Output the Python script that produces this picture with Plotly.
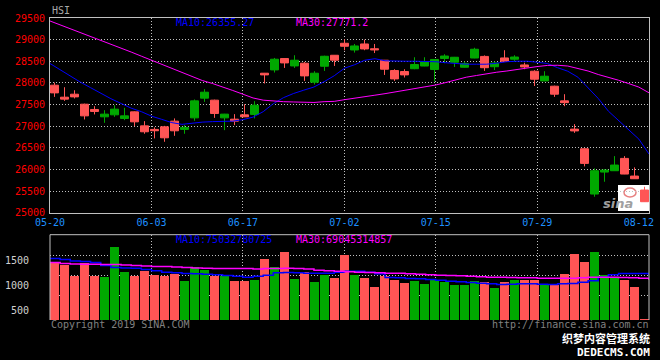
import plotly.graph_objects as go

# ---------------- data ----------------
day_index = list(range(60))
tick_labels = ["05-20", "06-03", "06-17", "07-02", "07-15", "07-29", "08-12"]
tick_days = [0, 10, 19, 29, 38, 48, 58]

open_ = [27947, 27670, 27739, 27508, 27386, 27216, 27262, 27178, 27331, 27007,
         26925, 26985, 27116, 26925, 27192, 27647, 27601, 27192, 27162, 27262,
         27271, 28224, 28300, 28563, 28392, 28455, 28016, 28385, 28639, 28916,
         28761, 28900, 28790, 28524, 28286, 28263, 28328, 28390, 28309, 28565,
         28478, 28362, 28575, 28612, 28374, 28577, 28547, 28415, 28270, 28046,
         27924, 27585, 26932, 26478, 25431, 25939, 25970, 26255, 25847, 25524]
high = [28008, 27900, 27830, 27520, 27462, 27370, 27485, 27424, 27340, 27116,
        26971, 27007, 27179, 27024, 27617, 27855, 27612, 27285, 27278, 27508,
        27577, 28230, 28577, 28570, 28639, 28485, 28270, 28628, 28645, 29008,
        28900, 29000, 28900, 28530, 28316, 28316, 28593, 28593, 28550, 28662,
        28600, 28496, 28812, 28635, 28496, 28755, 28639, 28466, 28293, 28270,
        27935, 27739, 27047, 26485, 26025, 26008, 26308, 26308, 26048, 25600]
low = [27677, 27585, 27640, 27155, 27271, 27077, 27216, 27139, 27001, 26825,
       26717, 26639, 26777, 26824, 27123, 27562, 27192, 26908, 27024, 27210,
       27179, 27986, 28240, 28346, 28346, 28046, 27963, 28277, 28392, 28755,
       28701, 28755, 28690, 28184, 28046, 28125, 28316, 28385, 28035, 28455,
       28369, 28355, 28570, 28277, 28298, 28495, 28501, 28316, 27928, 28040,
       27677, 27462, 26845, 26070, 25369, 25715, 25965, 25890, 25780, 25250]
close = [27769, 27625, 27677, 27238, 27340, 27278, 27393, 27238, 27100, 26870,
         26894, 26731, 26893, 26971, 27585, 27785, 27293, 27278, 27116, 27216,
         27485, 28185, 28547, 28462, 28524, 28162, 28224, 28616, 28524, 28847,
         28854, 28785, 28765, 28316, 28092, 28185, 28425, 28489, 28542, 28621,
         28593, 28450, 28778, 28351, 28459, 28501, 28598, 28369, 28085, 28155,
         27739, 27543, 26890, 26140, 25970, 25985, 26101, 25893, 25785, 25254]

ma10 = [28448, 28298, 28148, 28016, 27889, 27753, 27635, 27525, 27416, 27335,
        27232, 27158, 27082, 27042, 27070, 27093, 27105, 27112, 27116, 27151,
        27209, 27335, 27520, 27659, 27756, 27832, 27905, 28028, 28166, 28339,
        28420, 28524, 28559, 28512, 28501, 28501, 28501, 28501, 28489, 28466,
        28443, 28432, 28432, 28432, 28455, 28489, 28501, 28501, 28478, 28448,
        28351, 28270, 28132, 27889, 27640, 27347, 27139, 26908, 26701, 26355.27]
ma30 = [29431, 29343, 29255, 29170, 29082, 28995, 28902, 28808, 28713, 28618,
        28524, 28429, 28335, 28238, 28143, 28055, 27986, 27910, 27825, 27739,
        27652, 27601, 27578, 27566, 27559, 27548, 27548, 27566, 27573, 27612,
        27652, 27682, 27716, 27751, 27788, 27825, 27866, 27905, 27952, 28009,
        28074, 28132, 28171, 28212, 28247, 28275, 28312, 28351, 28378, 28404,
        28408, 28390, 28339, 28275, 28194, 28132, 28062, 27984, 27903, 27771.2]

volume = [1480, 1420, 1196, 1446, 1196, 1166, 1766, 1266, 1196, 1286,
          1206, 1196, 1220, 1086, 1366, 1316, 1196, 1196, 1086, 1086,
          1116, 1526, 1366, 1666, 1126, 1276, 1066, 1216, 1152, 1606,
          1200, 1152, 966, 1180, 1112, 1052, 1086, 1032, 1112, 1066,
          1012, 1012, 1086, 1066, 952, 1066, 1112, 1100, 1112, 1012,
          1012, 1232, 1632, 1466, 1666, 1200, 1152, 1112, 966, 320]
vol_ma10 = [1536, 1516, 1486, 1476, 1456, 1396, 1356, 1346, 1340, 1316,
            1286, 1256, 1246, 1232, 1226, 1220, 1206, 1192, 1176, 1160,
            1176, 1196, 1246, 1252, 1246, 1240, 1240, 1240, 1256, 1280,
            1276, 1256, 1226, 1152, 1146, 1132, 1126, 1112, 1100, 1080,
            1066, 1052, 1036, 1026, 1012, 1016, 1026, 1026, 1016, 1012,
            1026, 1032, 1056, 1086, 1156, 1206, 1232, 1232, 1232, 1200]
vol_ma30 = [1456, 1436, 1426, 1420, 1420, 1416, 1416, 1406, 1396, 1386,
            1376, 1372, 1366, 1356, 1346, 1340, 1336, 1336, 1336, 1332,
            1326, 1336, 1336, 1340, 1332, 1326, 1296, 1286, 1276, 1266,
            1260, 1252, 1246, 1240, 1236, 1226, 1216, 1206, 1200, 1192,
            1186, 1176, 1166, 1160, 1156, 1152, 1146, 1146, 1140, 1140,
            1136, 1136, 1146, 1156, 1160, 1156, 1152, 1146, 1136, 1106]
vol_ma_labels = ["MA10:75032780725", "MA30:69045314857"]
price_ticks = [25000, 25500, 26000, 26500, 27000, 27500, 28000, 28500, 29000, 29500]
vol_ticks = [500, 1000, 1500]
vol_grid = [800, 1200, 1600]

# ---------------- styling ----------------
RED = "#FF5555"
GREEN = "#00A800"
BLUE = "#0000FF"
MAGENTA = "#FF00FF"
GRID = "#C0C0C0"
FONT = "DejaVu Sans Mono"
W, H = 660, 360
ML, MR, MT, MB = 50, 11, 18, 40
PW, PH = W - ML - MR, H - MT - MB
N = len(day_index)
X0, X1 = -0.45, N - 0.55


def px_x(p):
    return (p - ML) / PW


def px_y(p):
    return (H - MB - p) / PH


# the MA lines and date grid use a slightly different horizontal scale in the original
line_x = [X0 + i * (X1 - X0) / (N - 1) for i in day_index]
tick_x = [X0 + d * (X1 - X0) / (N - 1) for d in tick_days]
grid_x = tick_x[1:-1]

vol_colors = [GREEN if c > o else RED for o, c in zip(open_, close)]

fig = go.Figure()
fig.add_trace(go.Candlestick(
    x=day_index, open=open_, high=high, low=low, close=close,
    increasing=dict(line=dict(color=GREEN, width=1), fillcolor=GREEN),
    decreasing=dict(line=dict(color=RED, width=1), fillcolor=RED),
    whiskerwidth=0, xaxis="x", yaxis="y", showlegend=False, hoverinfo="skip"))
fig.add_trace(go.Scatter(x=line_x, y=ma10, mode="lines", line=dict(color=BLUE, width=1),
                         xaxis="x", yaxis="y", showlegend=False, hoverinfo="skip"))
fig.add_trace(go.Scatter(x=line_x, y=ma30, mode="lines", line=dict(color=MAGENTA, width=1),
                         xaxis="x", yaxis="y", showlegend=False, hoverinfo="skip"))

fig.add_trace(go.Bar(x=day_index, y=volume, width=0.9, marker=dict(color=vol_colors, line=dict(width=0)),
                     xaxis="x2", yaxis="y2", showlegend=False, hoverinfo="skip"))
fig.add_trace(go.Scatter(x=line_x, y=vol_ma10, mode="lines", line=dict(color=BLUE, width=1.5, shape="hv"),
                         xaxis="x2", yaxis="y2", showlegend=False, hoverinfo="skip"))
fig.add_trace(go.Scatter(x=line_x, y=vol_ma30, mode="lines", line=dict(color=MAGENTA, width=1.5, shape="hv"),
                         xaxis="x2", yaxis="y2", showlegend=False, hoverinfo="skip"))

main_bottom = px_y(212.7)
vol_top = px_y(234.7)

dot = "1px,2px"
fig.update_layout(
    width=W, height=H,
    margin=dict(l=ML, r=MR, t=MT, b=MB, autoexpand=False),
    paper_bgcolor="black", plot_bgcolor="black",
    font=dict(family=FONT, size=10, color="#C0C0C0"),
    boxgap=0.2, boxgroupgap=0, bargap=0,
    xaxis=dict(domain=[0, 1], range=[X0, X1], anchor="y", automargin=False,
               rangeslider=dict(visible=False),
               tickmode="array", tickvals=tick_x, ticktext=tick_labels,
               tickfont=dict(color="#1E90FF", size=10, family=FONT),
               showgrid=False, zeroline=False, ticks="",
               minor=dict(tickmode="array", tickvals=grid_x, showgrid=True,
                          gridcolor=GRID, griddash=dot, gridwidth=1, ticks=""),
               showline=True, linecolor=GRID, linewidth=1, mirror=True),
    yaxis=dict(domain=[main_bottom, 1], range=[25000, 29500], anchor="x", automargin=False,
               tickmode="array", tickvals=price_ticks, ticktext=[str(v) for v in price_ticks],
               tickfont=dict(color="#FF0000", size=10, family=FONT),
               showgrid=True, gridcolor=GRID, griddash=dot, gridwidth=1,
               zeroline=False, ticks="", ticklabelstandoff=2,
               showline=True, linecolor=GRID, linewidth=1, mirror=True),
    xaxis2=dict(domain=[0, 1], range=[X0, X1], anchor="y2", automargin=False,
                showticklabels=False, ticks="", showgrid=False, zeroline=False,
                tickmode="array", tickvals=tick_x,
                minor=dict(tickmode="array", tickvals=grid_x, showgrid=True,
                           gridcolor=GRID, griddash=dot, gridwidth=1, ticks=""),
                showline=False),
    yaxis2=dict(domain=[0, vol_top], range=[300, 2012], anchor="x2", automargin=False,
                tickmode="array", tickvals=vol_ticks, ticktext=[str(v) for v in vol_ticks],
                tickfont=dict(color="#D0D0D0", size=10, family=FONT),
                showgrid=False, zeroline=False, ticks="", ticklabelstandoff=20,
                minor=dict(tickmode="array", tickvals=vol_grid, showgrid=True,
                           gridcolor=GRID, griddash=dot, gridwidth=1, ticks=""),
                showline=False),
)

# volume panel border (left, top, right)
fig.add_shape(type="path", xref="paper", yref="paper",
              path=f"M 0 0 L 0 {vol_top} L 1 {vol_top} L 1 0",
              line=dict(color=GRID, width=1))

# sina logo box
fig.add_shape(type="rect", xref="paper", yref="paper", layer="below",
              x0=px_x(618), x1=px_x(649), y0=px_y(211), y1=px_y(185),
              fillcolor="white", line=dict(width=0))
fig.add_shape(type="circle", xref="paper", yref="paper", layer="below",
              x0=px_x(624), x1=px_x(636), y0=px_y(197), y1=px_y(188),
              line=dict(color="#E88080", width=1.5))

ann = [
    dict(text="HSI", x=px_x(51), y=px_y(11), color="#A8A8A8", size=10, xanchor="left"),
    dict(text=f"MA10:{ma10[-1]:.2f}", x=px_x(175), y=px_y(23), color=BLUE, size=10, xanchor="left"),
    dict(text=f"MA30:{ma30[-1]:.1f}", x=px_x(295), y=px_y(23), color=MAGENTA, size=10, xanchor="left"),
    dict(text=vol_ma_labels[0], x=px_x(175), y=px_y(239), color=BLUE, size=10, xanchor="left"),
    dict(text=vol_ma_labels[1], x=px_x(295), y=px_y(239), color=MAGENTA, size=10, xanchor="left"),
    dict(text="Copyright 2019 SINA.COM", x=px_x(50), y=px_y(324.5), color="#808080", size=10, xanchor="left"),
    dict(text="http://finance.sina.com.cn", x=px_x(650), y=px_y(324), color="#808080", size=10, xanchor="right"),
]
for a in ann:
    fig.add_annotation(text=a["text"], x=a["x"], y=a["y"], xref="paper", yref="paper",
                       xanchor=a["xanchor"], yanchor="middle", showarrow=False, borderpad=0,
                       font=dict(family=FONT, size=a["size"], color=a["color"]))

fig.add_annotation(text="<i><b>sina</b></i>", x=px_x(635), y=px_y(203), xref="paper", yref="paper",
                   showarrow=False, font=dict(family="DejaVu Sans", size=13, color="#A0A0A0"))
fig.add_annotation(text="织梦内容管理系统", x=px_x(651), y=px_y(338), xref="paper", yref="paper",
                   xanchor="right", yanchor="middle", showarrow=False, borderpad=0,
                   font=dict(family="Noto Sans CJK SC", size=11, color="white", weight="bold"))
fig.add_annotation(text="DEDECMS.COM", x=px_x(651), y=px_y(352), xref="paper", yref="paper",
                   xanchor="right", yanchor="middle", showarrow=False, borderpad=0,
                   font=dict(family=FONT, size=11, color="white", weight="bold"))

fig.write_html("out.html", config={"displayModeBar": False},
               post_script="document.body.style.margin='0';document.body.style.padding='0';"
                           "document.body.style.background='black';")
